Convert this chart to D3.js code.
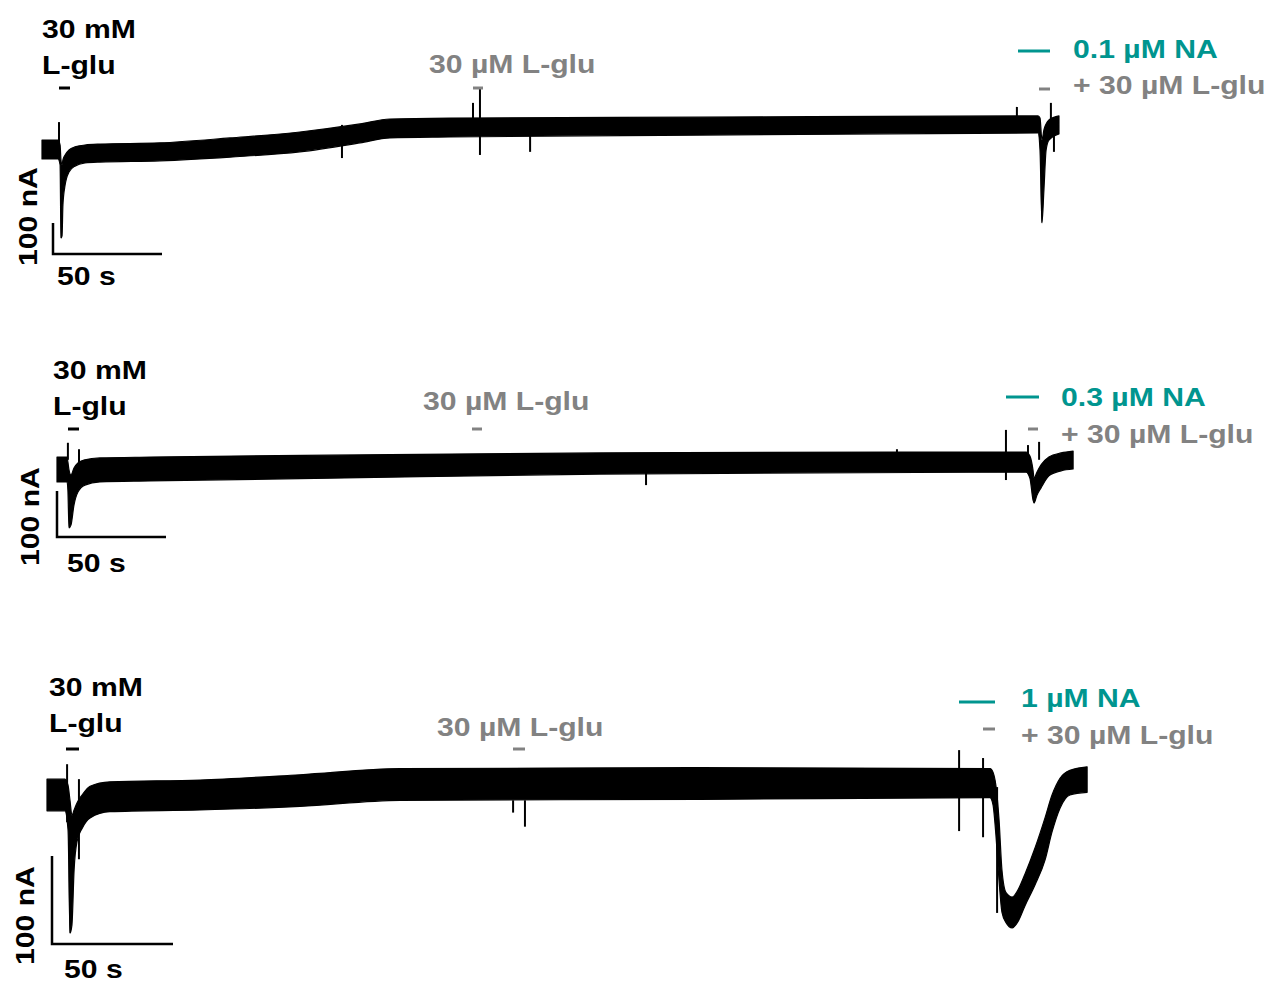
<!DOCTYPE html>
<html><head><meta charset="utf-8">
<script src="https://cdn.jsdelivr.net/npm/d3@7"></script>
<style>body{margin:0;background:#fff}svg{display:block}text{font-family:"Liberation Sans",Arial,sans-serif;font-weight:bold}</style>
</head><body>
<script>
// ---------- DATA (time in s, current in nA) ----------
// Panel 1 (0.1 µM NA)
const p1Time  = [0,7.3,8.3,8.7,9.2,9.6,10.6,12.4,15.1,19.7,26.6,54.1,86.2,118.3,145.9,159.6,187.2,301.8,456.9,457.8,458.7,459.6,460.6,461.9,466.5];
const p1Upper = [32,32,16,-32,-48,-32,-16,0,10,16,19,23,39,58,84,100,103,106,110,103,32,65,84,97,110];
const p1Lower = [-29,-29,-48,-284,-277,-177,-113,-71,-52,-42,-39,-35,-23,-6,23,39,42,48,55,0,-235,-129,0,32,52];
const p1Spikes = [[7.8,90,0],[137.6,81,-26],[197.7,152,81],[200.9,200,-16],[223.9,81,-6],[447.2,139,90],[462.8,152,81],[464.2,81,-6]];
// Panel 2 (0.3 µM NA)
const p2Time  = [0,4.6,5.0,5.5,6.4,7.8,9.6,12.8,19.7,42.7,125.2,249.1,444.5,446.3,447.7,448.2,449.5,451.4,455.0,460.6,466.1];
const p2Upper = [26,26,15,-2,-13,2,13,20,24,26,30,35,37,28,-2,-20,-7,9,26,35,39];
const p2Lower = [-28,-28,-46,-128,-122,-78,-50,-35,-28,-26,-20,-11,-7,-20,-67,-74,-57,-41,-15,-4,0];
const p2Spikes = [[5.0,57,20],[10.1,43,15],[270.2,-2,-35],[385.3,43,30],[435.3,85,-24],[445.4,52,20],[450.5,59,20]];
// Panel 3 (1 µM NA)
const p3Time  = [0,7.4,8.7,9.5,10.3,11.2,12.4,14.5,17.8,26.0,63.2,104.5,145.9,269.8,389.7,390.9,392.1,393.4,394.6,396.3,398.8,401.2,404.1,408.3,412.4,415.3,418.6,422.7,429.8];
const p3Upper = [18,18,11,-6,-23,-17,-9,0,10,15,17,23,30,31,30,26,11,-28,-85,-111,-116,-108,-90,-60,-26,0,19,28,32];
const p3Lower = [-18,-18,-40,-157,-148,-85,-53,-38,-26,-19,-17,-13,-6,-5,-3,-11,-45,-97,-133,-145,-151,-144,-126,-102,-74,-42,-15,0,3];
const p3Spikes = [[8.3,35,-31],[13.2,18,-73],[192.6,-6,-20],[197.5,-6,-36],[376.9,51,-41],[386.8,42,-48],[392.6,9,-134]];
// Labels
const glutLabel = ["30 mM", "L-glu"];
const lowGlutLabel = "30 µM L-glu";
const naLabels = ["0.1 µM NA", "0.3 µM NA", "1 µM NA"];
const coLabel = "+ 30 µM L-glu";
const scaleBarValues = [100, 50]; // nA, s
const scaleBarTexts = ["100 nA", "50 s"];

// ---------- LAYOUT ----------
const W = 1271, H = 983;
const TEAL = "#00958f", GRAY = "#828282", SX = 1.16, FS = 26;
const layout = [
  {time:p1Time, up:p1Upper, lo:p1Lower, spikes:p1Spikes, x0:42, kx:2.18, y0:150, ky:0.31,
   glu:[42,38,74], gluBar:[59,70,88], low:[429,73], lowBar:[473,483,88],
   naLine:[1018,1050,51], naText:[1073,58], coBar:[1039,1050,89], coText:[1073,94],
   sb:[53,254], sbs:[57,285], sbn:[37,266]},
  {time:p2Time, up:p2Upper, lo:p2Lower, spikes:p2Spikes, x0:57, kx:2.18, y0:469, ky:0.46,
   glu:[53,379,415], gluBar:[68,79,429], low:[423,410], lowBar:[472,482,429],
   naLine:[1006,1039,397], naText:[1061,406], coBar:[1028,1038,429], coText:[1061,443],
   sb:[57,537], sbs:[67,572], sbn:[39,566]},
  {time:p3Time, up:p3Upper, lo:p3Lower, spikes:p3Spikes, x0:47, kx:2.42, y0:795, ky:0.88,
   glu:[49,696,732], gluBar:[66,79,749], low:[437,736], lowBar:[513,525,749],
   naLine:[959,995,702], naText:[1021,707], coBar:[983,995,729], coText:[1021,744],
   sb:[52,944], sbs:[64,978], sbn:[34,965]}
];

const svg = d3.select("body").append("svg").attr("width", W).attr("height", H);

function txt(g, s, x, y, color, rot) {
  const t = g.append("text").attr("font-size", FS).attr("fill", color).text(s);
  t.attr("transform", `translate(${x},${y})` + (rot ? " rotate(-90)" : "") + ` scale(${SX},1)`);
  return t;
}
function bar(g, x1, x2, y, color, w) {
  g.append("line").attr("x1", x1).attr("x2", x2).attr("y1", y).attr("y2", y)
    .attr("stroke", color).attr("stroke-width", w || 3);
}

layout.forEach((p, i) => {
  const g = svg.append("g");
  const tMax = d3.max(p.time);
  const x = d3.scaleLinear().domain([0, tMax]).range([p.x0, p.x0 + tMax * p.kx]);
  const y = d3.scaleLinear().domain([0, 100]).range([p.y0, p.y0 - 100 * p.ky]);
  const pts = p.time.map((t, j) => ({t, u: p.up[j], l: p.lo[j]}));
  const area = d3.area().x(d => x(d.t)).y0(d => y(d.l)).y1(d => y(d.u)).curve(d3.curveMonotoneX);
  g.append("path").attr("d", area(pts)).attr("fill", "#000").attr("stroke", "#000").attr("stroke-width", 1.2).attr("stroke-linejoin", "round");
  g.selectAll("line.spk").data(p.spikes).enter().append("line").attr("class", "spk")
    .attr("x1", d => x(d[0])).attr("x2", d => x(d[0]))
    .attr("y1", d => y(d[1])).attr("y2", d => y(d[2]))
    .attr("stroke", "#000").attr("stroke-width", 2);

  // scale bars via scales
  const bx = p.sb[0], by = p.sb[1];
  const vLen = y(0) - y(scaleBarValues[0]);
  const hLen = x(scaleBarValues[1]) - x(0);
  g.append("path").attr("d", `M${bx},${by - vLen}V${by}H${bx + hLen}`)
    .attr("fill", "none").attr("stroke", "#000").attr("stroke-width", 2.5);
  txt(g, scaleBarTexts[1], p.sbs[0], p.sbs[1], "#000");
  txt(g, scaleBarTexts[0], p.sbn[0], p.sbn[1], "#000", true);

  // annotations
  txt(g, glutLabel[0], p.glu[0], p.glu[1], "#000");
  txt(g, glutLabel[1], p.glu[0], p.glu[2], "#000");
  bar(g, p.gluBar[0], p.gluBar[1], p.gluBar[2], "#000");
  txt(g, lowGlutLabel, p.low[0], p.low[1], GRAY);
  bar(g, p.lowBar[0], p.lowBar[1], p.lowBar[2], GRAY);
  bar(g, p.naLine[0], p.naLine[1], p.naLine[2], TEAL);
  txt(g, naLabels[i], p.naText[0], p.naText[1], TEAL);
  bar(g, p.coBar[0], p.coBar[1], p.coBar[2], GRAY);
  txt(g, coLabel, p.coText[0], p.coText[1], GRAY);
});
</script>
</body></html>
